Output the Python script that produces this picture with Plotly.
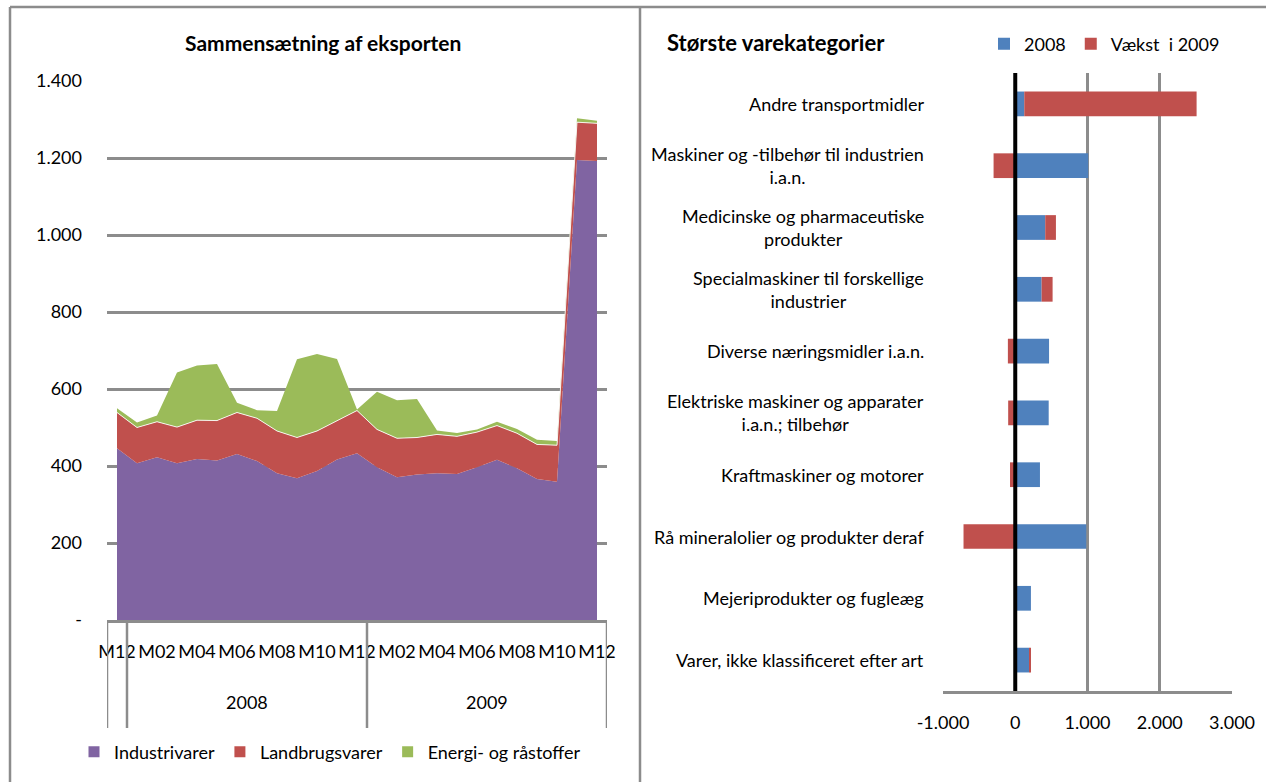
"""Eksportens sammensætning og største varekategorier."""

import plotly.graph_objects as go

# --- left chart: monthly export composition ---
periods_year = ["2007"] + ["2008"] * 12 + ["2009"] * 12
periods_month = ["M12",
                 "M01", "M02", "M03", "M04", "M05", "M06", "M07", "M08", "M09", "M10", "M11", "M12",
                 "M01", "M02", "M03", "M04", "M05", "M06", "M07", "M08", "M09", "M10", "M11", "M12"]

industrivarer = [446, 407, 423, 407, 418, 414, 431, 413, 381, 368, 387, 417, 433,
                 397, 371, 378, 381, 379, 397, 416, 394, 366, 359, 1195, 1192]
landbrugsvarer = [93, 93, 92, 94, 101, 104, 108, 111, 110, 106, 104, 101, 111,
                  98, 101, 96, 101, 98, 91, 89, 91, 90, 95, 98, 98]
energi_raastoffer = [11, 13, 16, 142, 142, 147, 25, 21, 52, 203, 200, 160, 3,
                     98, 99, 100, 10, 9, 7, 10, 11, 12, 11, 10, 7]

y_ticks = [0, 200, 400, 600, 800, 1000, 1200, 1400]

# --- right chart: largest commodity groups ---
kategorier = [
    "Andre transportmidler",
    "Maskiner og -tilbehør til industrien<br>i.a.n.",
    "Medicinske og pharmaceutiske<br>produkter",
    "Specialmaskiner til forskellige<br>industrier",
    "Diverse næringsmidler i.a.n.",
    "Elektriske maskiner og apparater<br>i.a.n.; tilbehør",
    "Kraftmaskiner og motorer",
    "Rå mineralolier og produkter deraf",
    "Mejeriprodukter og fugleæg",
    "Varer, ikke klassificeret efter art",
]
vaerdi_2008 = [125, 1010, 415, 365, 468, 463, 342, 983, 217, 194]
vaekst_2009 = [2385, -300, 148, 152, -102, -98, -73, -716, -8, 23]

x2_ticks = [-1000, 0, 1000, 2000, 3000]

COLORS = {
    'industri': '#8064A2',
    'landbrug': '#C0504D',
    'energi': '#9BBB59',
    'blue': '#4F81BD',
    'red': '#C0504D',
    'grid': '#8C8C8C',
}
FONT = "Lato, 'Open Sans', sans-serif"
W, H = 1266, 782


def px_x(x):
    return x / W


def px_y(y):
    return 1 - y / H


def dk_num(v):
    return f"{v:,}".replace(",", ".")


idx = list(range(len(periods_month)))

fig = go.Figure()

# stacked areas
for name, vals, col, lw in [
    ("Industrivarer", industrivarer, COLORS['industri'], 0),
    ("Landbrugsvarer", landbrugsvarer, COLORS['landbrug'], 1),
    ("Energi- og råstoffer", energi_raastoffer, COLORS['energi'], 0),
]:
    fig.add_trace(go.Scatter(
        x=idx, y=vals, name=name, stackgroup='eksport',
        mode='lines', fillcolor=col,
        line=dict(width=lw, color='rgba(255,255,255,0.85)' if lw else col),
        legendgroup=name, showlegend=False,
        customdata=[f"{m} {y}" for m, y in zip(periods_month, periods_year)],
        hovertemplate='%{customdata}<br>' + name + ': %{y:,.0f}<extra></extra>',
        xaxis='x', yaxis='y',
    ))
    # square legend swatch
    fig.add_trace(go.Scatter(
        x=[None], y=[None], name=name, mode='markers',
        marker=dict(symbol='square', size=11, color=col),
        legendgroup=name, legend='legend', xaxis='x', yaxis='y',
    ))

# horizontal bars
fig.add_trace(go.Bar(
    y=kategorier, x=vaerdi_2008, name='2008', orientation='h',
    marker=dict(color=COLORS['blue'], line=dict(width=0)),
    xaxis='x2', yaxis='y2', legend='legend2',
))
fig.add_trace(go.Bar(
    y=kategorier, x=vaekst_2009, name='Vækst  i 2009', orientation='h',
    marker=dict(color=COLORS['red'], line=dict(width=0)),
    xaxis='x2', yaxis='y2', legend='legend2',
))

left_dom_x = [px_x(107), px_x(607)]
left_dom_y = [px_y(620), px_y(81)]
right_dom_x = [px_x(943), px_x(1232)]
right_dom_y = [px_y(691), px_y(73)]

axis_font = dict(family=FONT, size=18, color='black')

fig.update_layout(
    width=W, height=H,
    margin=dict(l=0, r=0, t=0, b=0, autoexpand=False),
    paper_bgcolor='white', plot_bgcolor='white',
    font=dict(family=FONT, size=18, color='black'),
    barmode='relative', bargap=0.6,
    xaxis=dict(
        domain=left_dom_x, range=[-0.5, len(idx) - 0.5],
        tickvals=idx[::2], ticktext=periods_month[::2],
        tickfont=axis_font, ticks='', ticklabelstandoff=14,
        showgrid=False, zeroline=False,
        showline=True, linecolor=COLORS['grid'], linewidth=2.5,
    ),
    yaxis=dict(
        domain=left_dom_y, range=[0, 1400],
        tickvals=y_ticks, ticktext=['-' if v == 0 else dk_num(v) for v in y_ticks],
        tickfont=axis_font, ticks='', ticklabelstandoff=24,
        showgrid=True, gridcolor=COLORS['grid'], gridwidth=2.5,
        zeroline=False, showline=False,
    ),
    xaxis2=dict(
        domain=right_dom_x, range=[-1000, 3000], anchor='y2',
        tickvals=x2_ticks, ticktext=[dk_num(v) for v in x2_ticks],
        tickfont=axis_font, ticks='', ticklabelstandoff=14,
        showgrid=True, gridcolor=COLORS['grid'], gridwidth=2.5,
        zeroline=False,
        showline=True, linecolor=COLORS['grid'], linewidth=2.5,
    ),
    yaxis2=dict(
        domain=right_dom_y, anchor='x2', autorange='reversed',
        showticklabels=False, showgrid=False, zeroline=False, showline=False,
    ),
    legend=dict(
        orientation='h', x=px_x(74), y=px_y(752), xanchor='left', yanchor='middle',
        font=dict(family=FONT, size=18), bgcolor='rgba(0,0,0,0)',
    ),
    legend2=dict(
        orientation='h', x=px_x(984), y=px_y(44), xanchor='left', yanchor='middle',
        font=dict(family=FONT, size=18), bgcolor='rgba(0,0,0,0)',
    ),
    showlegend=True,
)

# zero line of the bar chart, drawn above the bars
fig.add_shape(type='line', xref='x2', yref='y2 domain', x0=0, x1=0, y0=0, y1=1,
              line=dict(color='black', width=4), layer='above')

# multi-level category axis: group dividers and year labels
groups = []
for i, yr in enumerate(periods_year):
    if groups and groups[-1][0] == yr:
        groups[-1][2] = i
    else:
        groups.append([yr, i, i])
bounds = sorted({g[1] - 0.5 for g in groups} | {g[2] + 0.5 for g in groups})
for b in bounds:
    fig.add_shape(type='line', xref='x', yref='paper', x0=b, x1=b,
                  y0=px_y(728), y1=left_dom_y[0],
                  line=dict(color=COLORS['grid'], width=2.5))
for yr, a, b in groups:
    if b > a:
        fig.add_annotation(x=(a + b) / 2, y=px_y(702), xref='x', yref='paper',
                           yanchor='middle', text=yr, showarrow=False, font=axis_font)

# bar category labels (centred lines, right edge next to the plot)
for k in kategorier:
    fig.add_annotation(x=px_x(926), y=k, xref='paper', yref='y2', text=k,
                       xanchor='right', yanchor='middle', align='center',
                       showarrow=False, font=axis_font)

# titles
fig.add_annotation(x=px_x(323), y=px_y(42), xref='paper', yref='paper',
                   xanchor='center', yanchor='middle',
                   text='<b>Sammensætning af eksporten</b>',
                   showarrow=False, font=dict(family=FONT, size=21, color='black'))
fig.add_annotation(x=px_x(665), y=px_y(42), xref='paper', yref='paper',
                   xanchor='left', yanchor='middle',
                   text='<b>Største varekategorier</b>', showarrow=False,
                   font=dict(family=FONT, size=22, color='black'))

# panel frame
frame = dict(color=COLORS['grid'], width=2.5)
fig.add_shape(type='line', xref='paper', yref='paper', x0=px_x(10), x1=1,
              y0=px_y(7), y1=px_y(7), line=frame)
fig.add_shape(type='line', xref='paper', yref='paper', x0=px_x(10), x1=px_x(10),
              y0=0, y1=px_y(7), line=frame)
fig.add_shape(type='line', xref='paper', yref='paper', x0=px_x(640), x1=px_x(640),
              y0=0, y1=px_y(7), line=frame)

fig.write_html("out.html", config={'displayModeBar': False},
               post_script="document.body.style.margin = '0';")
